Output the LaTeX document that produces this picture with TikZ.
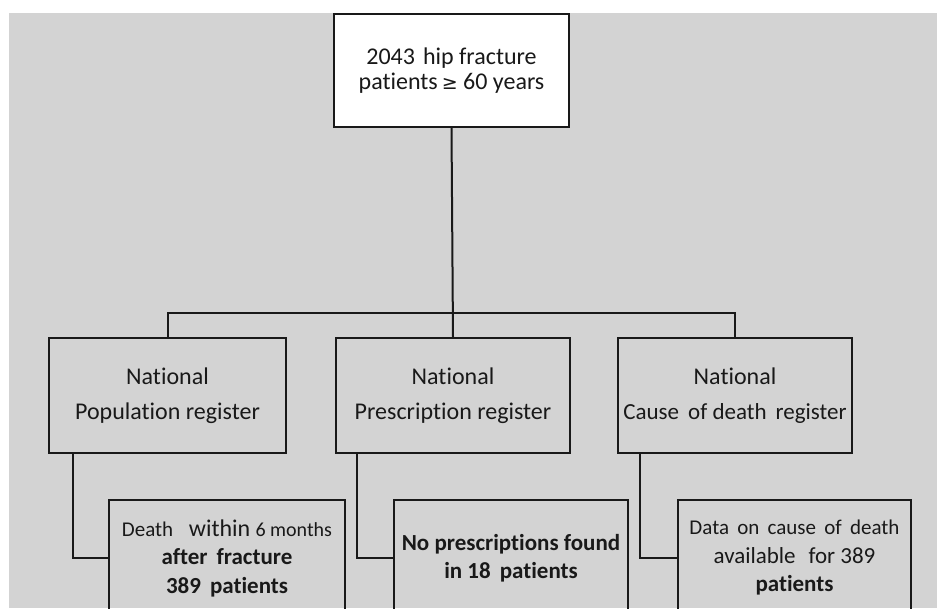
\documentclass[tikz,border=0pt]{standalone}
\usepackage{fontspec}
\setmainfont{Carlito}[Ligatures=NoCommon]
\newfontfamily\symfont{DejaVu Sans}
\definecolor{bggray}{RGB}{211,211,211}
\definecolor{ink}{RGB}{25,25,25}
\begin{document}
\begin{tikzpicture}[x=1pt,y=-1pt,
  regbox/.style={draw=ink,line width=1.4pt,minimum width=236pt,minimum height=115pt,inner sep=0pt,align=center,text=ink,font=\fontsize{24}{35}\selectfont},
  resbox/.style={draw=ink,line width=1.4pt,minimum height=116pt,inner sep=0pt,align=center,text=ink,font=\fontsize{23}{28.5}\selectfont},
  conn/.style={draw=ink,line width=2pt}]
\path[use as bounding box,clip] (0,0) rectangle (937,608);
\fill[bggray] (9,13) rectangle (937,608);
\node[draw=ink,fill=white,line width=2pt,minimum width=235pt,minimum height=113pt,inner sep=0pt,align=center,text=ink,font=\fontsize{24}{25}\selectfont] (top) at (451.5,70.5) {2043\,\,hip fracture\\patients\,{\symfont\fontsize{19}{25}\selectfont ≥} 60 years};
\node[regbox,minimum width=237pt] (popreg) at (167.5,395.5) {National\\Population register};
\node[regbox,minimum width=234pt] (prereg) at (453,395.5) {National\\Prescription register};
\node[regbox,minimum width=234pt] (codreg) at (735,395.5) {National\\{\fontsize{23}{35}\selectfont Cause\, of death\, register}};
\node[resbox,minimum width=236pt] (death) at (227,558) {{\fontsize{21}{28.5}\selectfont Death\,\,\,} {\fontsize{24}{28.5}\selectfont within} {\fontsize{20}{28.5}\selectfont 6 months}\\\textbf{after\, fracture}\\\textbf{389\, patients}};
\node[resbox,minimum width=234pt] (nopres) at (511,558) {\textbf{No prescriptions found}\\\textbf{in 18\, patients}};
\node[resbox,minimum width=233pt] (cause) at (794.5,558) {{\fontsize{21}{28.5}\selectfont Data\, on\, cause\, of\, death}\\available\,\, for 389\\\textbf{patients}};
\coordinate (bar) at (452,313);
\draw[conn] (top.south) -- (prereg.north);
\draw[conn] (popreg.north) |- (bar) -| (codreg.north);
\draw[conn] ([xshift=25pt]popreg.south west) |- (death.west);
\draw[conn] ([xshift=22pt]prereg.south west) |- (nopres.west);
\draw[conn] ([xshift=23pt]codreg.south west) |- (cause.west);
\end{tikzpicture}
\end{document}
